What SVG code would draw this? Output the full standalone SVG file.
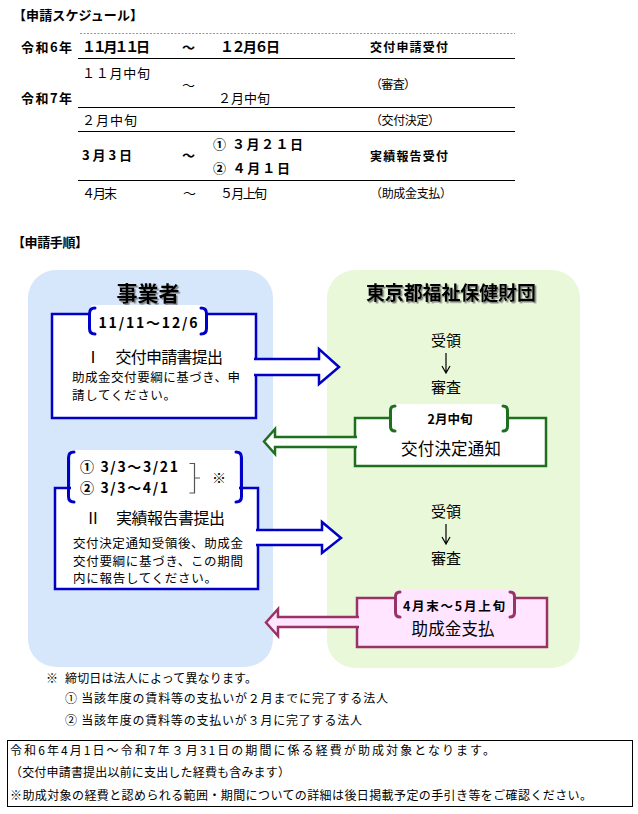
<svg xmlns="http://www.w3.org/2000/svg" width="638" height="814" viewBox="0 0 638 814">
<defs>
<style>
text{font-family:"Noto Sans CJK JP","Noto Sans CJK SC",sans-serif;fill:#000}
.b{font-weight:bold}
.t13{font-size:13px}
.t12{font-size:12px}
.mid{text-anchor:middle}
.rule{stroke:#000;stroke-width:1}
.blue{fill:#fff;stroke:#0000C8;stroke-width:2.5}
.green{fill:#fff;stroke:#1E6F1E;stroke-width:2.5}
.pink{fill:#FFE5FF;stroke:#993366;stroke-width:2.5}
.brb{fill:none;stroke:#0000C8;stroke-width:3;stroke-linecap:round}
.brg{fill:none;stroke:#1E6F1E;stroke-width:3;stroke-linecap:round}
.brp{fill:none;stroke:#993366;stroke-width:3;stroke-linecap:round}
</style>
<filter id="sh" x="-10%" y="-20%" width="130%" height="150%">
<feDropShadow dx="1.5" dy="1.5" stdDeviation="0.7" flood-color="#666" flood-opacity="0.8"/>
</filter>
</defs>
<rect width="638" height="814" fill="#fff"/>

<g id="schedule">
<text class="b t13" x="13" y="20" textLength="130">【申請スケジュール】</text>
<line x1="80" y1="33.5" x2="515" y2="33.5" stroke="#999" stroke-width="1" stroke-dasharray="2,1.5"/>
<line class="rule" x1="78" y1="58.5" x2="515" y2="58.5"/>
<line class="rule" x1="78" y1="107.5" x2="515" y2="107.5"/>
<line class="rule" x1="78" y1="131.5" x2="515" y2="131.5"/>
<line class="rule" x1="78" y1="180.5" x2="515" y2="180.5"/>
<text class="b t13" x="21" y="52" textLength="51">令和6年</text>
<text class="b" font-size="14" x="82" y="52" textLength="68">１１月１１日</text>
<text class="b t13" x="182" y="52">～</text>
<text class="b" font-size="14" x="220" y="52" textLength="60">１２月６日</text>
<text class="b t12" x="370" y="51.5" textLength="78">交付申請受付</text>
<text class="t13" x="82" y="77.5" textLength="68">１１月中旬</text>
<text class="t13" x="182" y="89.5">～</text>
<text class="t13" x="218" y="102.5" textLength="52">２月中旬</text>
<text class="t12" x="370" y="89" textLength="46">（審査）</text>
<text class="b t13" x="21" y="102.5" textLength="51">令和7年</text>
<text class="t13" x="82" y="124.5" textLength="55">２月中旬</text>
<text class="t12" x="370" y="124.5" textLength="70">（交付決定）</text>
<text class="b t13" x="213" y="149" textLength="90">① ３月２１日</text>
<text class="b t13" x="82" y="160" textLength="50">3月3日</text>
<text class="b t13" x="182" y="160">～</text>
<text class="b t12" x="370" y="161" textLength="78">実績報告受付</text>
<text class="b t13" x="213" y="173" textLength="77">② ４月１日</text>
<text class="t13" x="82" y="197.5" textLength="35">４月末</text>
<text class="t13" x="183" y="197.5">～</text>
<text class="t13" x="220" y="197.5" textLength="47">５月上旬</text>
<text class="t12" x="370" y="197.5" textLength="82">（助成金支払）</text>
</g>

<g id="procedure-title">
<text class="b t13" x="12" y="247" textLength="76">【申請手順】</text>
</g>

<g id="panel-applicant">
<rect x="28" y="270" width="245" height="397" rx="28" fill="#D6E6FB"/>
<text class="b mid" font-size="21" x="148" y="301" filter="url(#sh)">事業者</text>
</g>

<g id="panel-foundation">
<rect x="327" y="270" width="253" height="398" rx="28" fill="#E8F8D9"/>
<text class="b mid" font-size="19" x="451" y="300" textLength="170" filter="url(#sh)">東京都福祉保健財団</text>
</g>

<g id="step1">
<rect class="blue" x="52" y="314" width="204" height="104"/>
<rect x="91" y="305" width="114" height="31" fill="#fff"/>
<path class="brb" d="M95,308 Q89.5,308 89.5,313.5 V328.5 Q89.5,334 95,334"/>
<path class="brb" d="M201,308 Q206.5,308 206.5,313.5 V328.5 Q206.5,334 201,334"/>
<text class="b mid" font-size="14" x="148" y="328" textLength="99">11/11～12/6</text>
<text font-size="16" x="85" y="363" textLength="138">Ⅰ　交付申請書提出</text>
<text font-size="12.5" x="72" y="382" textLength="168">助成金交付要綱に基づき、申</text>
<text font-size="12.5" x="72" y="399.5" textLength="104">請してください。</text>
</g>

<g id="step2">
<rect class="blue" x="55" y="488" width="203" height="101"/>
<rect x="71" y="450" width="168" height="54" fill="#fff"/>
<path class="brb" d="M74,452 Q68.5,452 68.5,457.5 V496.5 Q68.5,502 74,502"/>
<path class="brb" d="M236,452 Q241.5,452 241.5,457.5 V496.5 Q241.5,502 236,502"/>
<text class="b" font-size="14" x="80" y="472" textLength="98">① 3/3～3/21</text>
<text class="b" font-size="14" x="80" y="493" textLength="88">② 3/3～4/1</text>
<path d="M189.5,463.5 H194.5 V493 H189.5 M194.5,478 H200" fill="none" stroke="#555" stroke-width="1.2"/>
<text class="b" font-size="14" x="212" y="483">※</text>
<text font-size="16" x="85" y="524" textLength="140">Ⅱ　実績報告書提出</text>
<text font-size="12.5" x="73" y="547.5" textLength="170">交付決定通知受領後、助成金</text>
<text font-size="12.5" x="73" y="565.5" textLength="170">交付要綱に基づき、この期間</text>
<text font-size="12.5" x="73" y="583" textLength="144">内に報告してください。</text>
</g>

<g id="review1">
<text class="mid" font-size="15" x="446" y="346">受領</text>
<text class="mid" font-size="15" x="446" y="393">審査</text>
</g>

<g id="notice">
<rect class="green" x="355" y="418" width="191" height="48"/>
<rect x="392" y="404" width="114" height="28" fill="#fff"/>
<path class="brg" d="M395,406 Q390.5,406 390.5,410.5 V426.5 Q390.5,431 395,431"/>
<path class="brg" d="M503,406 Q507.5,406 507.5,410.5 V426.5 Q507.5,431 503,431"/>
<text class="b mid" font-size="12.5" x="450" y="423.5">2月中旬</text>
<text class="mid" font-size="16.5" x="451" y="455" textLength="100">交付決定通知</text>
</g>

<g id="review2">
<text class="mid" font-size="15" x="446" y="517">受領</text>
<text class="mid" font-size="15" x="446" y="564">審査</text>
</g>

<g id="payment">
<rect class="pink" x="357" y="598" width="190" height="49"/>
<rect x="397" y="590" width="116" height="28" fill="#FFE5FF"/>
<path class="brp" d="M400,592 Q395.5,592 395.5,596.5 V612.5 Q395.5,617 400,617"/>
<path class="brp" d="M510,592 Q514.5,592 514.5,596.5 V612.5 Q514.5,617 510,617"/>
<text class="b mid" font-size="12.5" x="454" y="610.5" textLength="102">4月末～5月上旬</text>
<text class="mid" font-size="16.5" x="453" y="635" textLength="83">助成金支払</text>
</g>

<g id="connectors">
<path class="blue" d="M254,359 H319 V349 L339,367 L319,384 V375 H254"/>
<path class="blue" d="M256,530 H322 V522 L341,538 L322,553 V545 H256"/>
<path class="green" d="M357,437 H275 V429 L264,441.5 L275,454 V447 H357"/>
<path class="pink" d="M359,617 H278 V609 L266,622.5 L278,636 V627 H359"/>
<path d="M446,353 V373 M442,366 L446,373 L450,366" fill="none" stroke="#000" stroke-width="1.2"/>
<path d="M446,524 V544 M442,537 L446,544 L450,537" fill="none" stroke="#000" stroke-width="1.2"/>
</g>

<g id="notes">
<text class="t12" x="46" y="682.5">※</text>
<text class="t12" x="65" y="682.5" textLength="192">締切日は法人によって異なります。</text>
<text class="t12" x="65" y="702.5" textLength="323">① 当該年度の賃料等の支払いが２月までに完了する法人</text>
<text class="t12" x="65" y="724.5" textLength="297">② 当該年度の賃料等の支払いが３月に完了する法人</text>
</g>

<g id="footer">
<rect x="7.5" y="740.5" width="625" height="66" fill="none" stroke="#000" stroke-width="1"/>
<text class="t12" x="10" y="754.5" textLength="485">令和6年4月1日～令和7年３月31日の期間に係る経費が助成対象となります。</text>
<text class="t12" x="10" y="776.5" textLength="280">（交付申請書提出以前に支出した経費も含みます）</text>
<text class="t12" x="10" y="799.5" textLength="582">※助成対象の経費と認められる範囲・期間についての詳細は後日掲載予定の手引き等をご確認ください。</text>
</g>
</svg>
